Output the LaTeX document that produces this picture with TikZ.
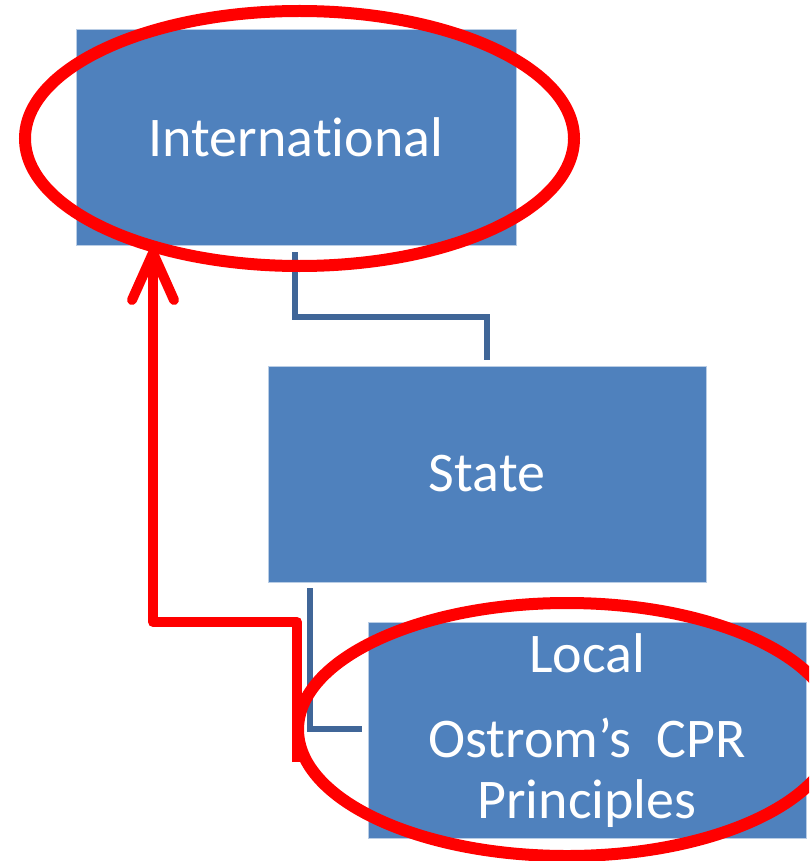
\documentclass[tikz,border=0pt]{standalone}
\usepackage{fontspec}
\setmainfont{Carlito}[Ligatures=NoCommon]
\usetikzlibrary{shapes.geometric,calc}
\definecolor{boxblue}{RGB}{79,129,189}
\definecolor{boxedge}{RGB}{185,205,229}
\definecolor{linkblue}{RGB}{64,102,152}
\definecolor{markred}{RGB}{255,0,0}
\tikzset{
  levelbox/.style={rectangle, fill=boxblue, draw=boxedge, line width=1pt, inner sep=0pt, text=white, font=\fontsize{56}{66}\selectfont},
  boxtext/.style={text=white, font=\fontsize{56}{66}\selectfont, inner sep=0pt},
  link/.style={draw=linkblue, line width=5.5pt},
  redmark/.style={draw=markred, line width=12pt},
  redarrow/.style={draw=markred, line width=10pt, line join=round, line cap=round}
}
\begin{document}
\begin{tikzpicture}[x=1pt,y=-1pt]
\useasboundingbox (0,0) rectangle (809,861);
\clip (0,0) rectangle (809,861);
% boxes
\node[levelbox, minimum width=440pt, minimum height=215pt] (intl) at (296,137.5) {International};
\node[levelbox, minimum width=438pt, minimum height=216pt] (state) at (487,474) {State};
\node[levelbox, minimum width=438pt, minimum height=216pt] (local) at (587,730) {};
\node[boxtext, anchor=base] (t1) at (587,672) {Local};
\node[boxtext, anchor=base] (t2) at (587,757) {Ostrom’s\ \ CPR};
\node[boxtext, anchor=base] (t3) at (587,818) {Principles};
% connectors
\coordinate (c1) at (295,252);
\coordinate (c2) at (487,360);
\draw[link] (c1) -- (295,317) -- (c2 |- 0,317) -- (c2);
\coordinate (c3) at (310,588);
\coordinate (c4) at (362,729);
\draw[link] (c3) -- (c3 |- c4) -- (c4);
% red ellipses
\node[redmark, ellipse, minimum width=549pt, minimum height=255pt, inner sep=0pt] (e1) at (299.5,138.5) {};
\node[redmark, ellipse, minimum width=538pt, minimum height=253pt, inner sep=0pt] (e2) at (567,729.5) {};
% red arrow
\coordinate (a0) at (297,762);
\coordinate (tip) at (153,253);
\draw[redarrow, line cap=butt] (a0) -- (297,622) -- (153,622) -- (tip);
\draw[redarrow, line join=miter] ($(tip)+(-21,47)$) -- (tip) -- ($(tip)+(21,47)$);
\end{tikzpicture}
\end{document}
